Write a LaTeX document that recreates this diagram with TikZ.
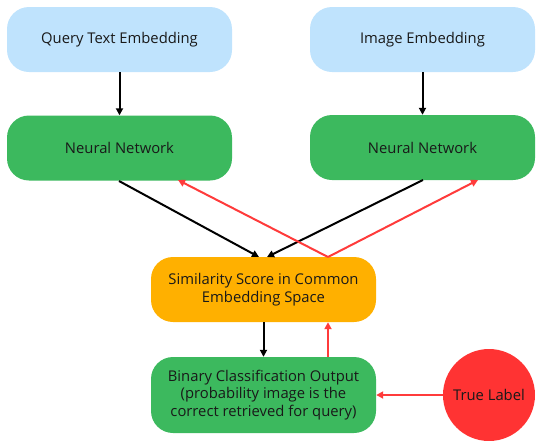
\documentclass[tikz,border=0pt]{standalone}
\usepackage{fontspec}
\setmainfont{Open Sans}
\usetikzlibrary{arrows.meta}
\definecolor{lblue}{HTML}{BFE3FD}
\definecolor{ngreen}{HTML}{3CB95E}
\definecolor{sorange}{HTML}{FFB000}
\definecolor{tred}{HTML}{FF3333}
\definecolor{ared}{HTML}{FF3B3B}
\begin{document}
\begin{tikzpicture}[x=1pt,y=-1pt,
  box/.style={rounded corners=22pt, minimum width=225pt, minimum height=65pt, inner sep=0pt, align=center, font=\fontsize{14.8}{17.5}\selectfont, text=black!90},
  blk/.style={draw=black, line width=2pt, -{Triangle[length=7pt,width=7pt]}},
  rd/.style={draw=ared, line width=2pt, -{Triangle[length=7pt,width=7pt]}}]
\useasboundingbox (0,0) rectangle (536,440);
\node[box, fill=lblue] (q) at (119.5,39.5) {Query Text Embedding};
\node[box, fill=lblue] (ie) at (422.5,39.5) {Image Embedding};
\node[box, fill=ngreen] (nl) at (119.5,148) {Neural Network};
\node[box, fill=ngreen] (nr) at (422.5,147.5) {Neural Network};
\node[box, fill=sorange] (s) at (263.5,289.5) {Similarity Score in Common\\Embedding Space};
\node[box, fill=ngreen, minimum height=76pt] (b) at (263.5,395) {Binary Classification Output\\(probability image is the\\correct retrieved for query)};
\node[circle, fill=tred, minimum size=92pt, inner sep=0pt, font=\fontsize{14.8}{17.5}\selectfont, text=black!90] (t) at (489,395) {True Label};
\coordinate (nlb) at (119,181);
\coordinate (nrb) at (423,180);
\coordinate (st1) at (259,257);
\coordinate (st2) at (267,257);
\coordinate (sr) at (328,257);
\coordinate (nlr) at (178,180);
\coordinate (nrr) at (478,180);
\draw[blk] (q.south) -- (nl.north);
\draw[blk] (ie.south) -- (nr.north);
\draw[blk] (nlb) -- (st1);
\draw[blk] (nrb) -- (st2);
\draw[rd] (sr) -- (nlr);
\draw[rd] (sr) -- (nrr);
\draw[blk] (s.south) -- (b.north);
\draw[rd] (b.north -| sr) -- (s.south -| sr);
\draw[rd] (t.west) -- (b.east);
\end{tikzpicture}
\end{document}
